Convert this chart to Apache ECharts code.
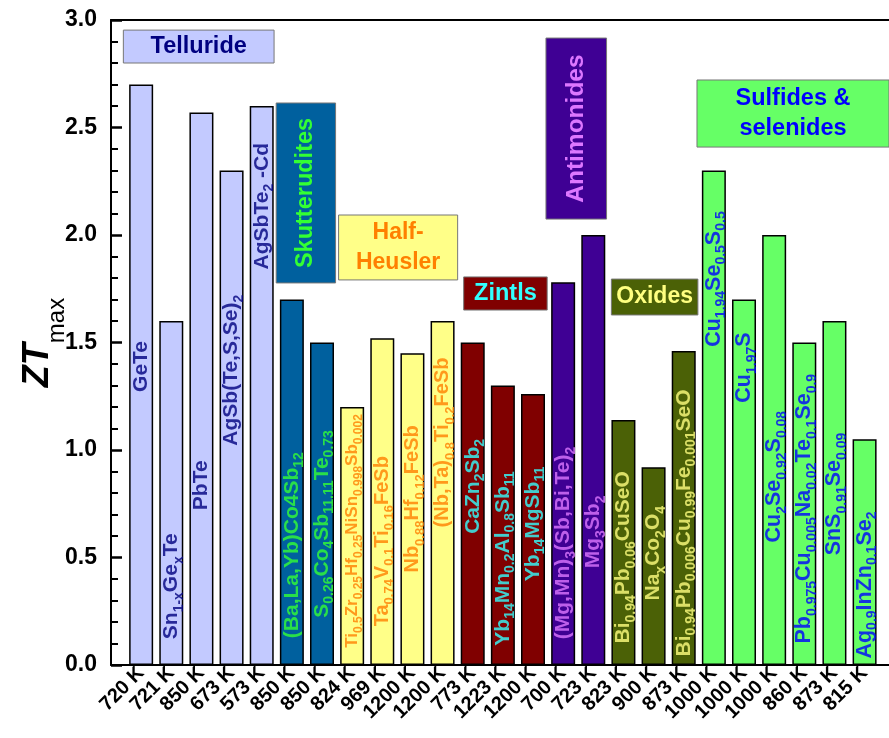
<!DOCTYPE html>
<html>
<head>
<meta charset="utf-8">
<script src="https://cdn.jsdelivr.net/npm/echarts@6/dist/echarts.min.js"></script>
<style>
html,body{margin:0;padding:0;background:#fff;}
#chart{width:889px;height:738px;}
</style>
</head>
<body>
<div id="chart"></div>
<script>
// ---- data ----
const categories = ['720 K','721 K','850 K','673 K','573 K','850 K','850 K','824 K','969 K','1200 K','1200 K','773 K','1223 K','1200 K','700 K','723 K','823 K','900 K','873 K','1000 K','1000 K','1000 K','860 K','873 K','815 K'];
const ztMax = [2.70,1.60,2.57,2.30,2.60,1.70,1.50,1.20,1.52,1.45,1.60,1.50,1.30,1.26,1.78,2.00,1.14,0.92,1.46,2.30,1.70,2.00,1.50,1.60,1.05];
const materials = [
  'GeTe','Sn_{1-x}Ge_{x}Te','PbTe','AgSb(Te,S,Se)_{2}','AgSbTe_{2} -Cd',
  '(Ba,La,Yb)Co4Sb_{12}','S_{0.26}Co_{4}Sb_{11.11}Te_{0.73}',
  'Ti_{0.5}Zr_{0.25}Hf_{0.25}NiSn_{0.998}Sb_{0.002}','Ta_{0.74}V_{0.1}Ti_{0.16}FeSb','Nb_{0.88}Hf_{0.12}FeSb','(Nb,Ta)_{0.8}Ti_{0.2}FeSb',
  'CaZn_{2}Sb_{2}','Yb_{14}Mn_{0.2}Al_{0.8}Sb_{11}','Yb_{14}MgSb_{11}',
  '(Mg,Mn)_{3}(Sb,Bi,Te)_{2}','Mg_{3}Sb_{2}',
  'Bi_{0.94}Pb_{0.06}CuSeO','Na_{x}Co_{2}O_{4}','Bi_{0.94}Pb_{0.006}Cu_{0.99}Fe_{0.001}SeO',
  'Cu_{1.94}Se_{0.5}S_{0.5}','Cu_{1.97}S','Cu_{2}Se_{0.92}S_{0.08}','Pb_{0.975}Cu_{0.005}Na_{0.02}Te_{0.1}Se_{0.9}','SnS_{0.91}Se_{0.09}','Ag_{0.9}InZn_{0.1}Se_{2}'
];
const groupOf = [0,0,0,0,0, 1,1, 2,2,2,2, 3,3,3, 4,4, 5,5,5, 6,6,6,6,6,6];
const groupNames = ['Telluride','Skutterudites','Half-\nHeusler','Zintls','Antimonides','Oxides','Sulfides &\nselenides'];
// where each rotated formula starts (ZT units)
const labelStart = [1.27,0.12,0.72,1.02,1.84, 0.125,0.22, 0.08,0.18,0.43,0.64, 0.61,0.09,0.39, 0.12,0.45, 0.10,0.30,0.04, 1.48,1.22,0.57,0.10,0.51,0.03];
// group boxes in axis units: [x0, y0, x1, y1]
const groupBoxes = [
  [-0.59,2.953,4.41,2.80],
  [4.48,2.614,6.45,1.777],
  [6.55,2.093,10.50,1.791],
  [10.70,1.805,13.47,1.651],
  [13.43,2.916,15.44,2.074],
  [15.60,1.795,18.47,1.628],
  [18.44,2.721,24.9,2.409]
];
const yTicks = {min:0, max:3, interval:0.5};

// ---- styles ----
const fillColors = ['#c3caff','#00609e','#ffff88','#800000','#3f0094','#4b6106','#66ff66'];
const textColors = ['#000080','#33ff33','#ff8000','#33ffff','#dd77ff','#ffff80','#0000ff'];
const fontSizes  = [21,21,20,21,21,21,21.5];
const boxRotate  = [0,90,0,0,90,0,0];
const boxFont    = [23.5,23.5,23,23.5,24.5,23,23.5];

function toRich(s){
  let out = '';
  const re = /_\{([^}]*)\}/g;
  let last = 0, m;
  while((m = re.exec(s))){
    if(m.index > last) out += '{n|' + s.slice(last, m.index) + '}';
    out += '{s|' + m[1] + '}';
    last = re.lastIndex;
  }
  if(last < s.length) out += '{n|' + s.slice(last) + '}';
  return out;
}

const FONT = '"Liberation Sans", Arial, sans-serif';
const chart = echarts.init(document.getElementById('chart'), null, {renderer:'canvas'});

const barData = ztMax.map((v,i)=>({
  value:[i, v],
  itemStyle:{color: fillColors[groupOf[i]]}
}));

const labelData = labelStart.map((v,i)=>{
  const g = groupOf[i];
  let fs = fontSizes[g];
  let ss = Math.round(fs*0.66);
  if(i === 7){ fs = 17; ss = 12; }
  return {
    value:[i, v],
    label:{
      show:true,
      formatter: toRich(materials[i]),
      rich:{
        n:{fontSize:fs, fontWeight:'bold', color:textColors[g], fontFamily:FONT, lineHeight:fs+8, verticalAlign:'middle'},
        s:{fontSize:ss, fontWeight:'bold', color:textColors[g], fontFamily:FONT, lineHeight:ss, verticalAlign:'bottom'}
      }
    }
  };
});

const areaData = groupBoxes.map((b,k)=>[
  {
    xAxis:b[0], yAxis:b[1],
    itemStyle:{color:fillColors[k], borderColor:'#777', borderWidth:1, opacity:1},
    label:{
      show:true, position:'inside', rotate:boxRotate[k],
      formatter:groupNames[k], color:textColors[k], fontWeight:'bold',
      fontSize:boxFont[k], fontFamily:FONT, lineHeight:30, align:'center', verticalAlign:'middle'
    }
  },
  {xAxis:b[2], yAxis:b[3]}
]);

const xRange = {min:-1, max:24.81, interval:1};

chart.setOption({
  backgroundColor:'#ffffff',
  animation:false,
  grid:{left:111, top:20, right:-6, bottom:73},
  xAxis:[{
    type:'value', min:xRange.min, max:xRange.max, interval:xRange.interval,
    splitLine:{show:false},
    axisTick:{show:false},
    axisLine:{show:true, onZero:false, lineStyle:{color:'#000', width:2}},
    axisLabel:{
      rotate:45, margin:5, color:'#000', fontWeight:'bold', fontSize:20, fontFamily:FONT,
      showMinLabel:true, showMaxLabel:false,
      formatter:(v)=>{ const i = Math.round(v); return (Math.abs(v-i)<1e-6 && i>=0 && i<categories.length) ? categories[i] : ''; }
    }
  },{
    type:'value', position:'top', min:xRange.min, max:xRange.max, interval:xRange.interval,
    splitLine:{show:false}, axisTick:{show:false}, axisLabel:{show:false},
    axisLine:{show:true, onZero:false, lineStyle:{color:'#000', width:2}}
  }],
  yAxis:[{
    type:'value', min:yTicks.min, max:yTicks.max, interval:yTicks.interval,
    splitLine:{show:false},
    axisLine:{show:true, onZero:false, lineStyle:{color:'#000', width:2}},
    axisTick:{show:true, inside:true, length:11, lineStyle:{color:'#000', width:2.5}},
    minorTick:{show:true, splitNumber:5, length:7, lineStyle:{color:'#000', width:2}},
    axisLabel:{margin:14, color:'#000', fontWeight:'bold', fontSize:23, fontFamily:FONT, formatter:(v)=>v.toFixed(1)}
  },{
    type:'value', position:'left', offset:0, min:yTicks.min, max:yTicks.max, interval:yTicks.interval,
    splitLine:{show:false}, axisLine:{show:false, onZero:false}, axisTick:{show:false}, axisLabel:{show:false},
    name:'{a|ZT}{b|max}', nameLocation:'middle', nameRotate:90, nameGap:55,
    nameTextStyle:{
      rich:{
        a:{fontSize:36, fontWeight:'bold', fontStyle:'italic', color:'#000', fontFamily:FONT, lineHeight:36, verticalAlign:'top'},
        b:{fontSize:24, color:'#000', fontFamily:FONT, lineHeight:24, padding:[25,0,0,0], verticalAlign:'top'}
      }
    }
  }],
  series:[
    {
      type:'bar', data:barData, barWidth:24,
      itemStyle:{borderColor:'#000', borderWidth:1.5},
      markArea:{silent:true, data:areaData},
      z:3
    },
    {
      type:'scatter', data:labelData, symbolSize:1,
      itemStyle:{color:'rgba(0,0,0,0)'},
      label:{show:true, position:'inside', rotate:90, align:'left', verticalAlign:'middle', distance:0},
      labelLayout:{hideOverlap:false},
      z:5, silent:true
    }
  ]
});
</script>
</body>
</html>
